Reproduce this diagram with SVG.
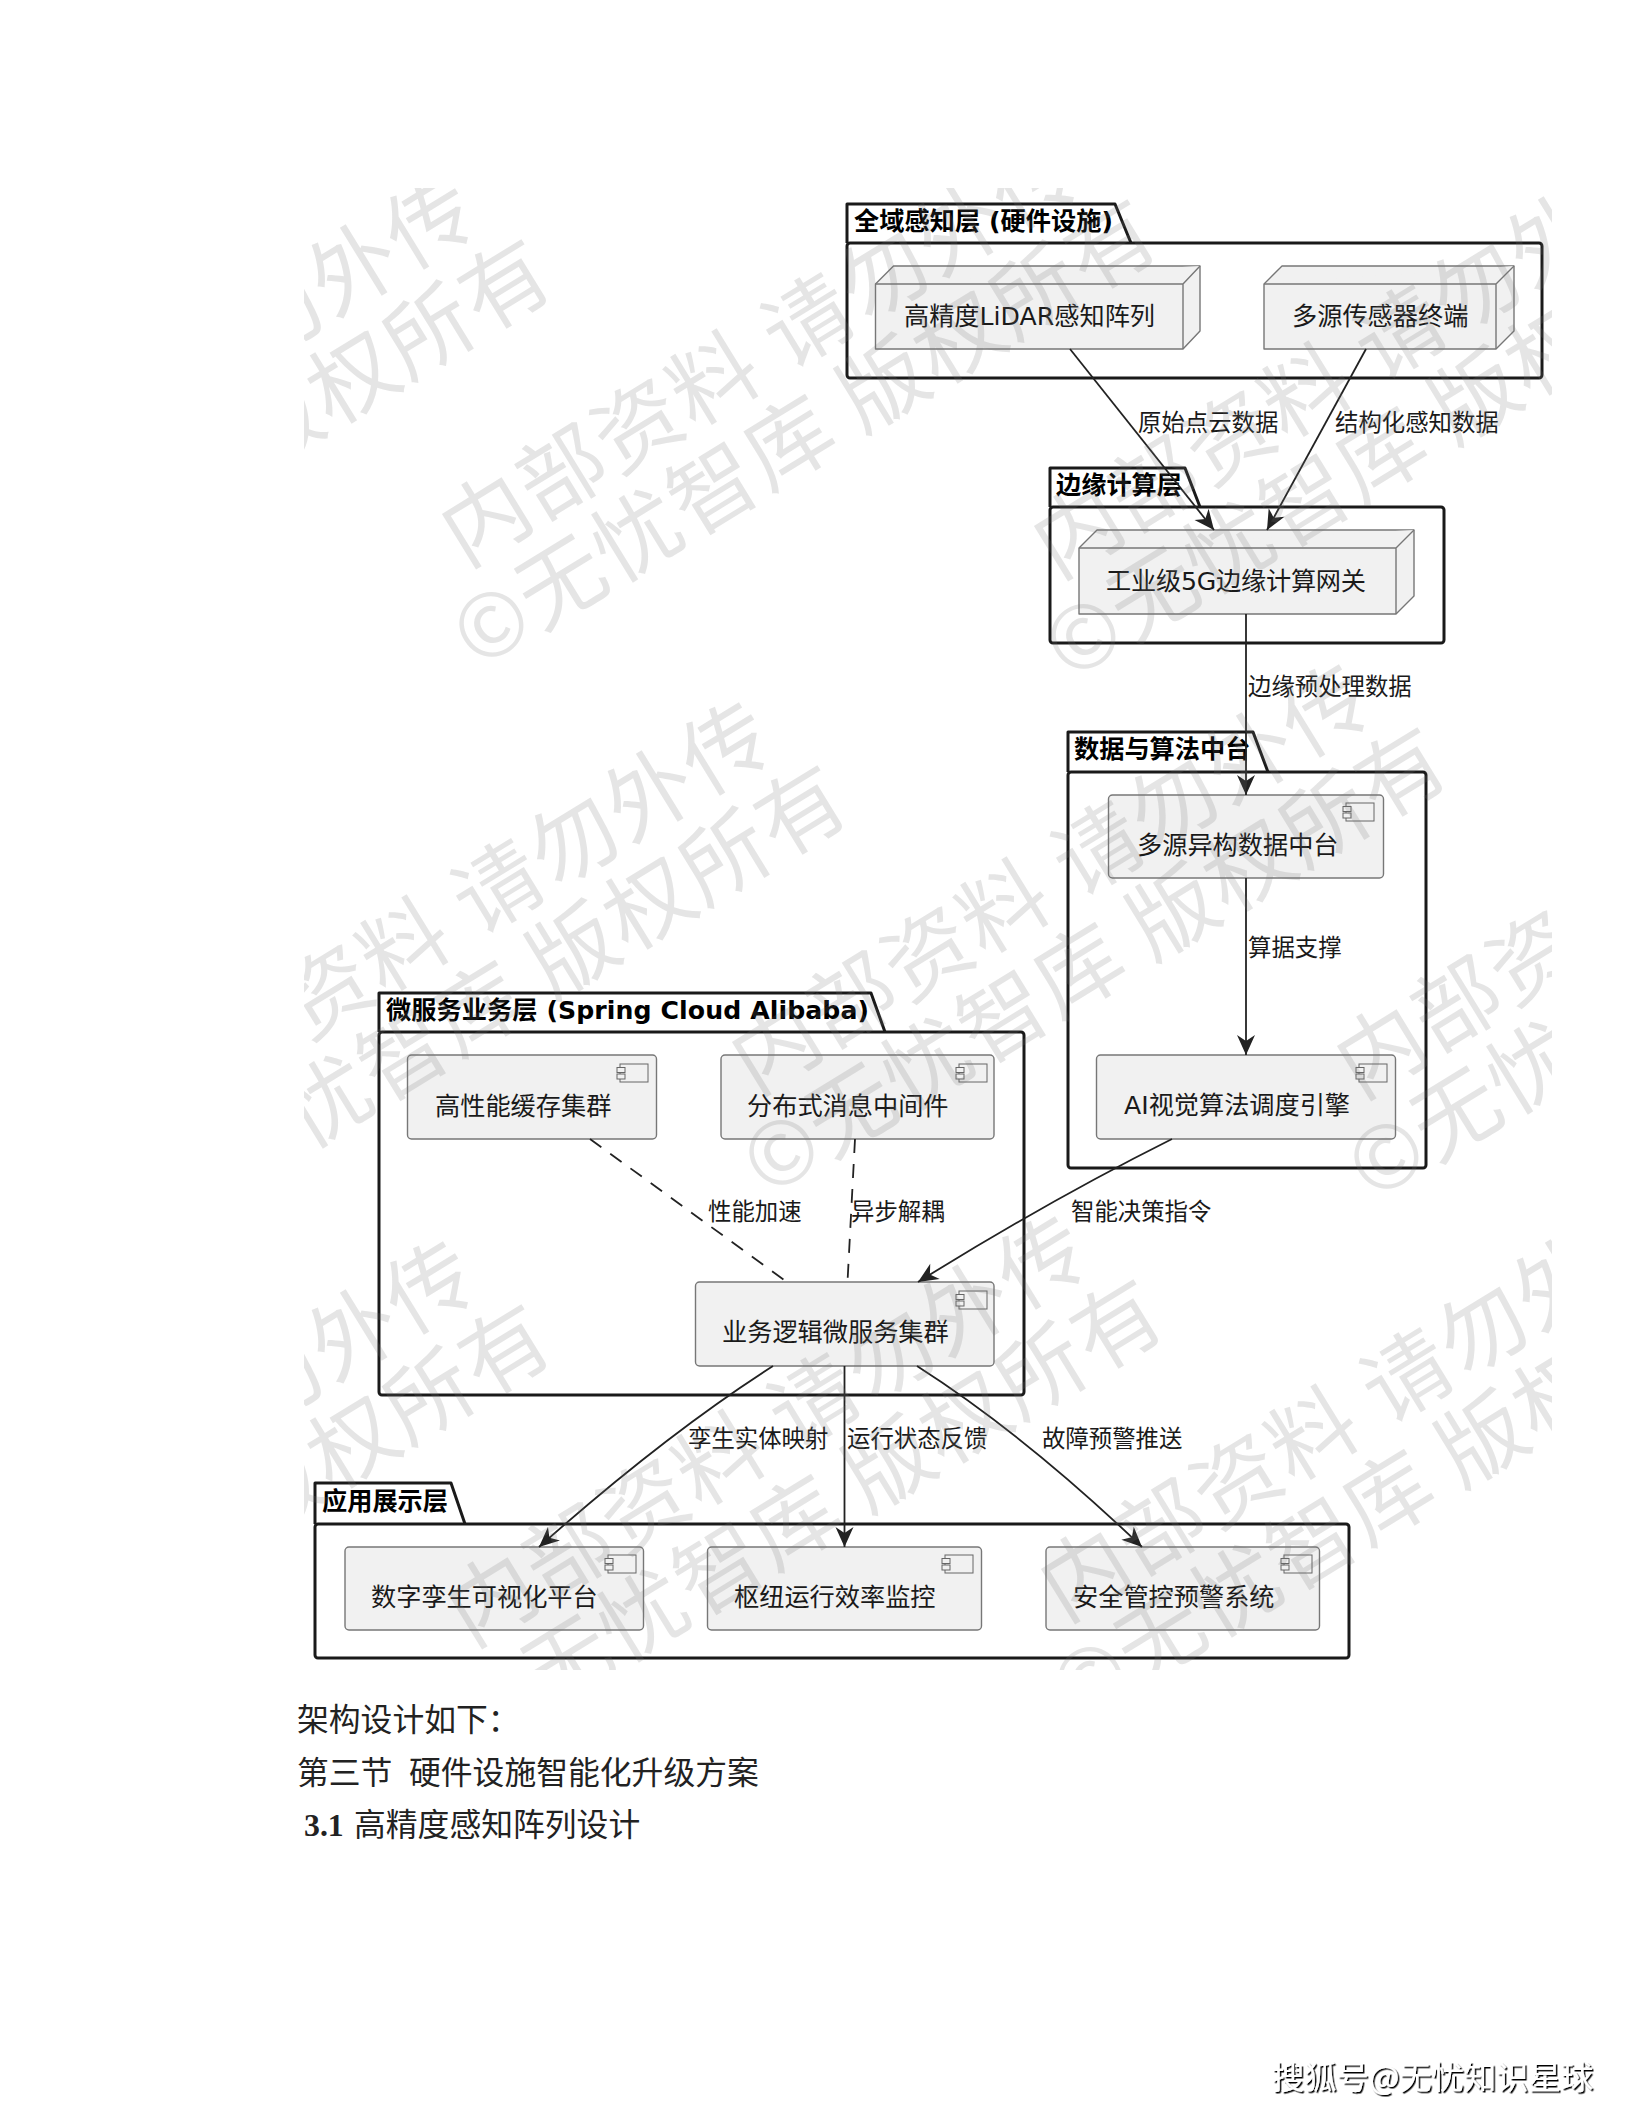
<svg xmlns="http://www.w3.org/2000/svg" width="1632" height="2112" viewBox="0 0 1632 2112">
<style>
text{font-family:"DejaVu Sans","Noto Sans CJK SC",sans-serif;fill:#1a1a1a}
.pkg{fill:none;stroke:#1a1a1a;stroke-width:3;stroke-linejoin:round}
.pt{font-size:25.2px;font-weight:700;fill:#000}
.node{fill:#f1f1f1;stroke:#777;stroke-width:1.4;stroke-linejoin:round}
.nt{font-size:25.2px}
.el{font-size:23.4px}
.edge{fill:none;stroke:#222;stroke-width:1.8}
.dash{stroke-dasharray:14 11}
.arrow{marker-end:url(#ah)}
.ic{fill:#f1f1f1;stroke:#666;stroke-width:1}
.body{font-family:"Liberation Serif","Noto Sans CJK SC",serif;font-size:31.8px;fill:#222}
.wm text{font-family:"Noto Sans CJK SC",sans-serif;font-size:87px;fill:#777;fill-opacity:.19;letter-spacing:2px}
.sig{font-family:"Noto Sans CJK SC",sans-serif;font-size:32.3px;fill:#fff;filter:url(#sh)}
</style>
<defs>
<marker id="ah" markerUnits="userSpaceOnUse" markerWidth="24" markerHeight="20" refX="22" refY="10" orient="auto"><path d="M22 10L2 1L8 10L2 19Z" fill="#222"/></marker>
<g id="icon"><rect class="ic" x="3" y="0" width="28" height="18"/><rect class="ic" x="0" y="3.500" width="8" height="5"/><rect class="ic" x="0" y="10" width="8" height="5"/></g>
<clipPath id="wc"><rect x="304" y="188" width="1248" height="1482"/></clipPath>
<filter id="sh" x="-5%" y="-20%" width="110%" height="140%"><feDropShadow dx="1.500" dy="1.500" stdDeviation="0.600" flood-color="#000"/></filter>
</defs>
<rect width="1632" height="2112" fill="#fff"/>

<g id="pkg-perception"><path class="pkg" d="M847 243V204H1115L1131 243"/><rect class="pkg" x="847" y="243" width="695" height="135" rx="3"/><text class="pt" x="854" y="230" textLength="259">全域感知层 (硬件设施)</text></g>
<g id="pkg-edge"><path class="pkg" d="M1050 507V468H1185L1200 507"/><rect class="pkg" x="1050" y="507" width="394" height="136" rx="3"/><text class="pt" x="1056" y="494">边缘计算层</text></g>
<g id="pkg-data"><path class="pkg" d="M1068 772V732H1253L1268 772"/><rect class="pkg" x="1068" y="772" width="358" height="396" rx="3"/><text class="pt" x="1074" y="758">数据与算法中台</text></g>
<g id="pkg-micro"><path class="pkg" d="M379 1032V993H871L885 1032"/><rect class="pkg" x="379" y="1032" width="645" height="363" rx="3"/><text class="pt" x="386" y="1019" textLength="483">微服务业务层 (Spring Cloud Alibaba)</text></g>
<g id="pkg-app"><path class="pkg" d="M315 1524V1483H451L465 1524"/><rect class="pkg" x="315" y="1524" width="1034" height="134" rx="3"/><text class="pt" x="322" y="1510">应用展示层</text></g>

<g id="node-lidar"><path class="node" d="M875.500 284L893.500 266H1200V331L1183 349H875.500Z"/><path class="node" d="M875.500 284H1183L1200 266M1183 284V349"/><text class="nt" x="904" y="325" textLength="251">高精度LiDAR感知阵列</text></g>
<g id="node-sensor"><path class="node" d="M1264 284L1282 266H1514V331L1496 349H1264Z"/><path class="node" d="M1264 284H1496L1514 266M1496 284V349"/><text class="nt" x="1292" y="325">多源传感器终端</text></g>
<g id="node-gateway"><path class="node" d="M1079 548L1097 530H1414V596L1396 614H1079Z"/><path class="node" d="M1079 548H1396L1414 530M1396 548V614"/><text class="nt" x="1106" y="590" textLength="260">工业级5G边缘计算网关</text></g>

<g id="node-datahub"><rect class="node" x="1108.500" y="795" width="275" height="83" rx="4"/><use href="#icon" x="1343" y="803"/><text class="nt" x="1137" y="854">多源异构数据中台</text></g>
<g id="node-ai"><rect class="node" x="1096.500" y="1055" width="299" height="84" rx="4"/><use href="#icon" x="1356" y="1064"/><text class="nt" x="1124" y="1114" textLength="226">AI视觉算法调度引擎</text></g>
<g id="node-cache"><rect class="node" x="407.500" y="1055" width="249" height="84" rx="4"/><use href="#icon" x="617" y="1064"/><text class="nt" x="435" y="1115">高性能缓存集群</text></g>
<g id="node-mq"><rect class="node" x="721" y="1055" width="273" height="84" rx="4"/><use href="#icon" x="956" y="1064"/><text class="nt" x="747" y="1115">分布式消息中间件</text></g>
<g id="node-biz"><rect class="node" x="695.500" y="1282" width="298.500" height="84" rx="4"/><use href="#icon" x="956" y="1291"/><text class="nt" x="722" y="1341">业务逻辑微服务集群</text></g>
<g id="node-twin"><rect class="node" x="345" y="1547" width="298.500" height="83" rx="4"/><use href="#icon" x="605" y="1555"/><text class="nt" x="371" y="1606">数字孪生可视化平台</text></g>
<g id="node-hub"><rect class="node" x="707.500" y="1547" width="274" height="83" rx="4"/><use href="#icon" x="942" y="1555"/><text class="nt" x="734" y="1606">枢纽运行效率监控</text></g>
<g id="node-safety"><rect class="node" x="1046" y="1547" width="273.500" height="83" rx="4"/><use href="#icon" x="1281" y="1555"/><text class="nt" x="1073" y="1606">安全管控预警系统</text></g>

<g id="connectors">
<path class="edge arrow" d="M1070 349L1214 530"/>
<path class="edge arrow" d="M1366 349L1267 530"/>
<path class="edge arrow" d="M1246 614V795"/>
<path class="edge arrow" d="M1246 878V1055"/>
<path class="edge dash" d="M590 1139L787 1282"/>
<path class="edge dash" d="M855 1139L847.500 1282"/>
<path class="edge arrow" d="M1172 1139Q1050 1200 918 1282"/>
<path class="edge arrow" d="M773 1366Q665 1435 539 1547"/>
<path class="edge arrow" d="M844.500 1366V1547"/>
<path class="edge arrow" d="M917 1366Q1025 1435 1142 1547"/>
</g>
<g id="edge-labels">
<text class="el" x="1138" y="431">原始点云数据</text>
<text class="el" x="1335" y="431">结构化感知数据</text>
<text class="el" x="1248" y="695">边缘预处理数据</text>
<text class="el" x="1248" y="956">算据支撑</text>
<text class="el" x="708" y="1220">性能加速</text>
<text class="el" x="851" y="1220">异步解耦</text>
<text class="el" x="1071" y="1220">智能决策指令</text>
<text class="el" x="688" y="1447">孪生实体映射</text>
<text class="el" x="847" y="1447">运行状态反馈</text>
<text class="el" x="1042" y="1447">故障预警推送</text>
</g>

<g class="wm" clip-path="url(#wc)">
<g transform="translate(-141 608)"><text transform="rotate(-31.5)">内部资料 请勿外传</text><text transform="translate(12 102) rotate(-31.5)">©无忧智库 版权所有</text></g>
<g transform="translate(465 568)"><text transform="rotate(-31.5)">内部资料 请勿外传</text><text transform="translate(12 102) rotate(-31.5)">©无忧智库 版权所有</text></g>
<g transform="translate(1057 580)"><text transform="rotate(-31.5)">内部资料 请勿外传</text><text transform="translate(12 102) rotate(-31.5)">©无忧智库 版权所有</text></g>
<g transform="translate(155 1134)"><text transform="rotate(-31.5)">内部资料 请勿外传</text><text transform="translate(12 102) rotate(-31.5)">©无忧智库 版权所有</text></g>
<g transform="translate(755 1096)"><text transform="rotate(-31.5)">内部资料 请勿外传</text><text transform="translate(12 102) rotate(-31.5)">©无忧智库 版权所有</text></g>
<g transform="translate(1360 1100)"><text transform="rotate(-31.5)">内部资料 请勿外传</text><text transform="translate(12 102) rotate(-31.5)">©无忧智库 版权所有</text></g>
<g transform="translate(-141 1673)"><text transform="rotate(-31.5)">内部资料 请勿外传</text><text transform="translate(12 102) rotate(-31.5)">©无忧智库 版权所有</text></g>
<g transform="translate(471 1648)"><text transform="rotate(-31.5)">内部资料 请勿外传</text><text transform="translate(12 102) rotate(-31.5)">©无忧智库 版权所有</text></g>
<g transform="translate(1064 1623)"><text transform="rotate(-31.5)">内部资料 请勿外传</text><text transform="translate(12 102) rotate(-31.5)">©无忧智库 版权所有</text></g>
</g>

<text class="body" x="297" y="1731">架构设计如下：</text>
<text class="body" x="297" y="1784">第三节</text>
<text class="body" x="409" y="1784">硬件设施智能化升级方案</text>
<text class="body" x="304" y="1836" font-weight="700">3.1</text>
<text class="body" x="354" y="1836">高精度感知阵列设计</text>
<text class="sig" x="1272" y="2089">搜狐号@无忧知识星球</text>
</svg>
